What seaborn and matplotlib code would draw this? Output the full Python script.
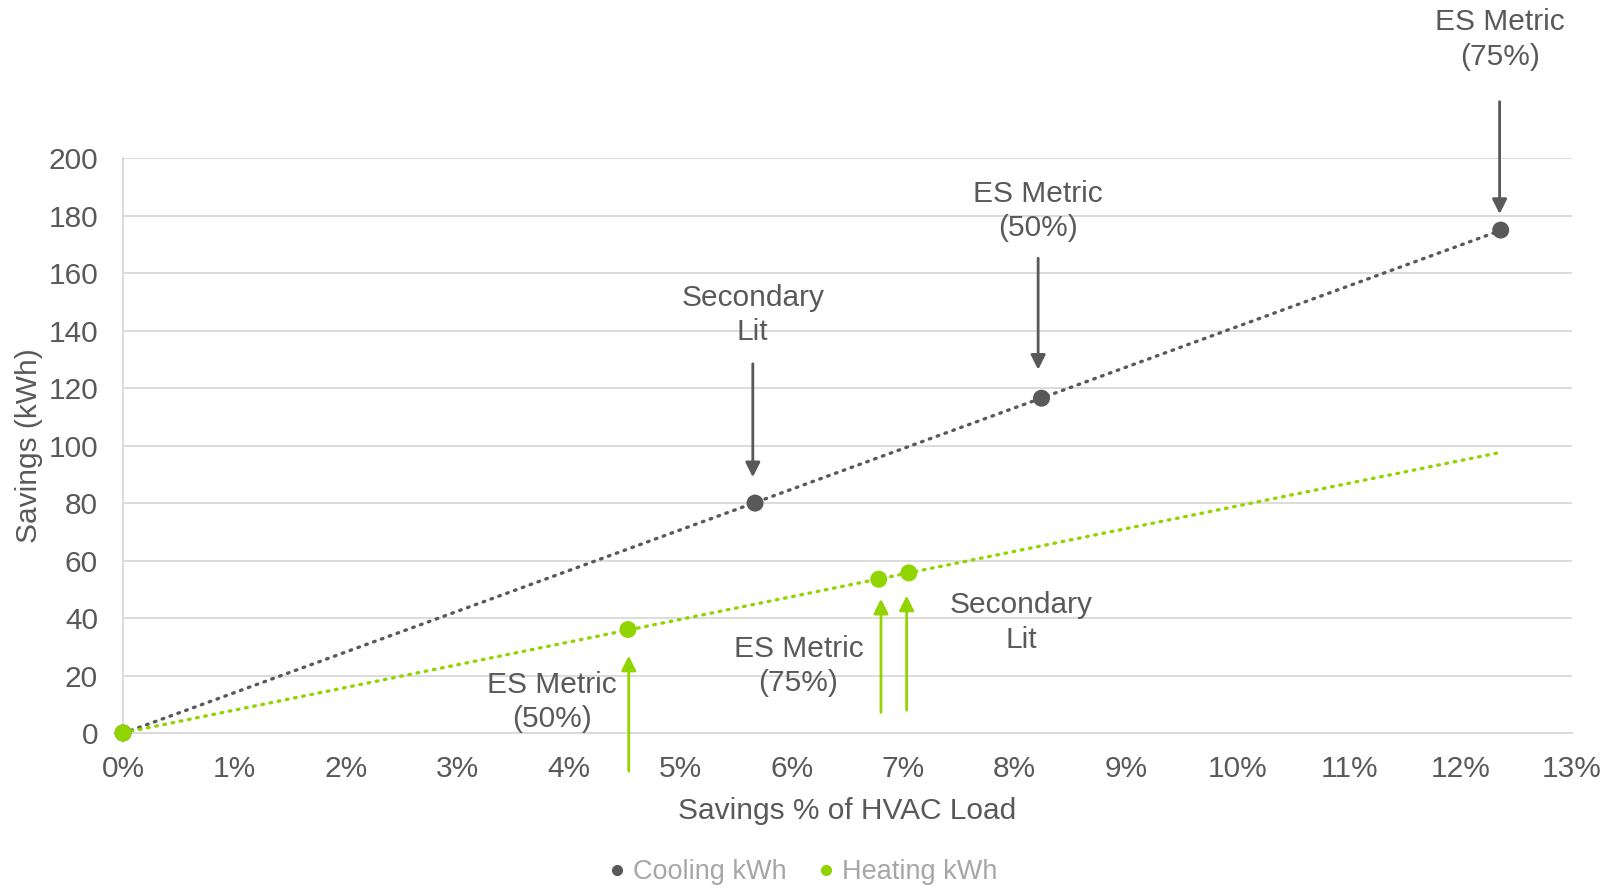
import numpy as np
import pandas as pd
import matplotlib
matplotlib.use("Agg")
import matplotlib.pyplot as plt
from matplotlib.ticker import FuncFormatter, MultipleLocator
import seaborn as sns

# Savings as % of HVAC load vs absolute savings (kWh)
cooling_pct = [0.0, 5.67, 8.24, 12.36]
cooling_kwh = [0.0, 80.0, 116.5, 175.0]
heating_pct = [0.0, 4.53, 6.78, 7.05]
heating_kwh = [0.0, 36.0, 53.5, 55.7]

series_names = ["Cooling kWh", "Heating kWh"]
colors = {"Cooling kWh": "#595959", "Heating kWh": "#92d400"}

df = pd.DataFrame({
    "pct": cooling_pct + heating_pct,
    "kwh": cooling_kwh + heating_kwh,
    "series": [series_names[0]] * len(cooling_pct) + [series_names[1]] * len(heating_pct),
})

sns.set_theme(style="white")
plt.rcParams["font.family"] = ["Liberation Sans", "DejaVu Sans"]

FS = 21.5
fig = plt.figure(figsize=(16.19, 8.89), dpi=100)
ax = fig.add_axes([0.076, 0.1755, 0.895, 0.6465])

# Linear trendlines, both extended to the largest x value
x_end = max(cooling_pct)
for name, xs, ys in [(series_names[0], cooling_pct, cooling_kwh),
                     (series_names[1], heating_pct, heating_kwh)]:
    slope, icpt = np.polyfit(xs, ys, 1)
    xt = np.array([0.0, x_end])
    ax.plot(xt, slope * xt + icpt, color=colors[name], lw=2.4,
            linestyle=(0, (0.5, 2.0)), dash_capstyle="round", zorder=2)

sns.scatterplot(data=df, x="pct", y="kwh", hue="series", palette=colors,
                s=150, edgecolor="none", ax=ax, zorder=3, legend=False,
                clip_on=False)

ax.set_xlim(0, 13)
ax.set_ylim(0, 200)
ax.xaxis.set_major_locator(MultipleLocator(1))
ax.yaxis.set_major_locator(MultipleLocator(20))
ax.xaxis.set_major_formatter(FuncFormatter(lambda v, p: f"{v:.0f}%"))
ax.grid(axis="y", color="#d9d9d9", lw=1.3)
ax.grid(axis="x", visible=False)
for side in ["top", "right"]:
    ax.spines[side].set_visible(False)
for side in ["left", "bottom"]:
    ax.spines[side].set_color("#d9d9d9")
    ax.spines[side].set_linewidth(1.3)
ax.tick_params(axis="both", labelsize=FS, colors="#595959", length=0)
ax.tick_params(axis="y", pad=18)
ax.tick_params(axis="x", pad=16)
ax.set_xlabel("Savings % of HVAC Load", fontsize=FS, color="#595959", labelpad=10)
ax.set_ylabel("Savings (kWh)", fontsize=FS, color="#595959", labelpad=4)

# Callouts: (label, text xy, arrow tail, arrow head, color)
callouts = [
    ("Secondary\nLit", (5.65, 145.4), (5.65, 128.5), (5.65, 89.0), colors["Cooling kWh"]),
    ("ES Metric\n(50%)", (8.21, 181.7), (8.21, 165.2), (8.21, 126.4), colors["Cooling kWh"]),
    ("ES Metric\n(75%)", (12.35, 241.3), (12.35, 219.7), (12.35, 180.6), colors["Cooling kWh"]),
    ("ES Metric\n(50%)", (3.85, 10.8), (4.537, -13.3), (4.537, 26.9), colors["Heating kWh"]),
    ("ES Metric\n(75%)", (6.06, 23.3), (6.80, 7.2), (6.80, 46.7), colors["Heating kWh"]),
    (None, None, (7.03, 7.9), (7.03, 47.8), colors["Heating kWh"]),
    ("Secondary\nLit", (8.06, 38.4), None, None, colors["Heating kWh"]),
]
for label, txy, tail, head, col in callouts:
    if tail is not None:
        ax.annotate("", xy=head, xytext=tail, annotation_clip=False,
                    arrowprops=dict(arrowstyle="-|>", color=col, lw=2,
                                    mutation_scale=22, shrinkA=0, shrinkB=0))
    if label is not None:
        ax.text(txy[0], txy[1], label, ha="center", va="center", fontsize=FS,
                color="#595959", linespacing=1.3, clip_on=False)

# Legend below the plot
handles = [plt.Line2D([], [], marker="o", ls="none", color=colors[n], markersize=7)
           for n in series_names]
fig.legend(handles, series_names, loc="center", bbox_to_anchor=(0.496, 0.019),
           ncol=2, frameon=False, fontsize=19.5, labelcolor="#a6a6a6",
           handlelength=0.6, handletextpad=0.3, columnspacing=1.15)

fig.savefig("out.png", dpi=100)
